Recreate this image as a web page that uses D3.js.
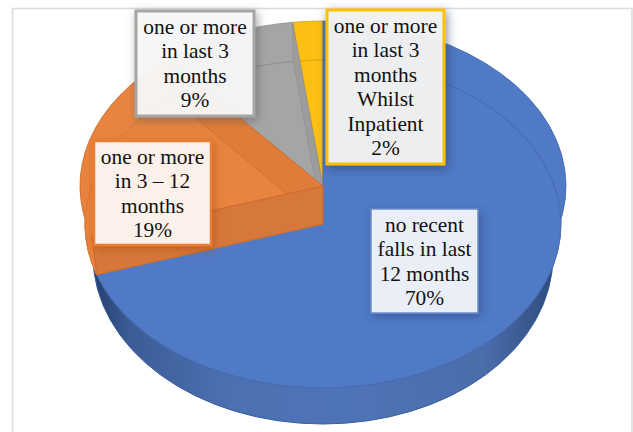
<!DOCTYPE html>
<html>
<head>
<meta charset="utf-8">
<script src="https://cdn.jsdelivr.net/npm/d3@7"></script>
<style>
html,body{margin:0;padding:0;background:#fff;overflow:hidden}
svg{display:block}
text{font-family:"Liberation Serif",serif;font-size:21.4px;fill:#111}
</style>
</head>
<body>
<svg id="chart" width="633" height="432"></svg>
<script>
// ---- data ----
const categories = ["no recent falls in last 12 months","one or more in 3 – 12 months","one or more in last 3 months","one or more in last 3 months Whilst Inpatient"];
const values = [70, 19, 9, 2];
const percentLabels = ["70%", "19%", "9%", "2%"];
const labelLines = [
  ["no recent","falls in last","12 months"],
  ["one or more","in 3 – 12","months"],
  ["one or more","in last 3","months"],
  ["one or more","in last 3","months","Whilst","Inpatient"]
];

// ---- layout and style ----
const W = 633, H = 432;
const faceColors = ["#507AC5", "#E8843F", "#A5A5A5", "#FCBF14"];
const edgeColors = ["#3F66AC", "#C9631F", "#8F8F8F", "#C9A227"];
const back  = {cx:323, cy:186, rx:243, ry:165};
const front = {cx:323, cy:224, rx:238, ry:164};
const shell = {cx:323, cy:256, rx:230, ry:168};
const boxes = [
  {x:371, y:209, w:107, h:104, stroke:"#6A8DCB", sw:1.5, fill:"#E9EEF7", shadow:"#27457f", base:232},
  {x:94,  y:141, w:117, h:104, stroke:"#ED7D31", sw:2.5, fill:"#FBF1EA", shadow:"#a8500f", base:164},
  {x:136, y:11,  w:118, h:105, stroke:"#A5A5A5", sw:3,   fill:"rgba(249,249,249,0.94)", shadow:"#555555", base:34},
  {x:327, y:10,  w:117, h:154, stroke:"#FFC000", sw:3,   fill:"rgba(242,242,242,0.96)", shadow:"#24365c", base:33}
];
const lineH = 24.4;

const svg = d3.select("#chart");
const defs = svg.append("defs");

const grad = defs.append("linearGradient").attr("id","shellGrad").attr("x1",0).attr("x2",1).attr("y1",0).attr("y2",0);
[[0,"#263F6C"],[0.08,"#3B5C96"],[0.3,"#4C71B2"],[0.55,"#4E74B8"],[0.85,"#4A6DAB"],[0.96,"#36558A"],[1,"#2E4A7C"]]
  .forEach(s => grad.append("stop").attr("offset",s[0]).attr("stop-color",s[1]));

boxes.forEach((b,i) => {
  defs.append("filter").attr("id","sh"+i).attr("x","-25%").attr("y","-25%").attr("width","150%").attr("height","150%")
    .append("feDropShadow").attr("dx",2).attr("dy",3).attr("stdDeviation",5)
    .attr("flood-color",b.shadow).attr("flood-opacity",0.55);
});

// frame
svg.append("path")
  .attr("d", d3.line()([[12.5,H+4],[12.5,8.5],[632,8.5],[632,H+4]]))
  .attr("fill","none").attr("stroke","#DCDCDC").attr("stroke-width",1.6);

// pie
const slices = d3.pie().sort(null).value(d => d)(values);
const arc = d3.arc().innerRadius(0).outerRadius(1);
const rim = d3.arc().innerRadius(1).outerRadius(1);
const place = l => `translate(${l.cx},${l.cy}) scale(${l.rx},${l.ry})`;
const scalesOf = l => ({
  x: d3.scaleLinear().domain([-1,1]).range([l.cx-l.rx, l.cx+l.rx]),
  y: d3.scaleLinear().domain([-1,1]).range([l.cy-l.ry, l.cy+l.ry])
});
const pt = (l,a,r) => {
  const s = scalesOf(l), p = d3.pointRadial(a,r);
  return [s.x(p[0]), s.y(p[1])];
};

// lower shell of the big slice
svg.append("g").attr("transform",place(shell))
  .append("path").attr("d",arc({startAngle:0,endAngle:2*Math.PI}))
  .attr("fill","url(#shellGrad)").attr("stroke","#3A5C99").attr("stroke-width",1)
  .attr("vector-effect","non-scaling-stroke");

// back face
svg.append("g").attr("transform",place(back)).selectAll("path").data(slices).join("path")
  .attr("d",arc).attr("fill",(d,i)=>faceColors[i]).attr("stroke",(d,i)=>edgeColors[i])
  .attr("stroke-width",0.8).attr("vector-effect","non-scaling-stroke");

// front face of the big slice and of the orange slice
const frontG = svg.append("g").attr("transform",place(front));
frontG.selectAll("path.face").data(slices.slice(0,2)).join("path").attr("class","face")
  .attr("d",arc).attr("fill",(d,i)=>faceColors[i]).attr("stroke",(d,i)=>i===0?"none":"#E8843F")
  .attr("vector-effect","non-scaling-stroke");
// faint rim of the front face
frontG.selectAll("path.rim").data(slices).join("path").attr("class","rim")
  .attr("d",rim).attr("fill","none").attr("stroke",(d,i)=>d3.color(faceColors[i]).darker(i===1?0.2:0.35))
  .attr("stroke-width",0.8).attr("vector-effect","non-scaling-stroke");

// walls between back and front faces
const wall = (a) => [pt(back,a,0), pt(back,a,1), pt(front,a,1), pt(front,a,0)];
const line = d3.line().curve(d3.curveLinearClosed);
const walls = [
  {a:slices[3].startAngle, c:"#9C9C9C", s:"#8F8F8F"},
  {a:slices[2].startAngle, c:"#E07C39", s:"#D06A28"},
  {a:slices[1].startAngle, c:"#D6773C", s:"#C9631F"}
];
svg.append("g").selectAll("path").data(walls).join("path")
  .attr("d",d=>line(wall(d.a))).attr("fill",d=>d.c).attr("stroke",d=>d.s).attr("stroke-width",0.7);

// yellow/blue seam
svg.append("path").attr("d",d3.line()([pt(back,0,1),pt(back,0,0)]))
  .attr("stroke","#4A6FB0").attr("stroke-width",1).attr("fill","none");

// labels
const labels = svg.append("g").selectAll("g").data(boxes).join("g");
labels.append("rect")
  .attr("x",d=>d.x).attr("y",d=>d.y).attr("width",d=>d.w).attr("height",d=>d.h)
  .attr("fill",d=>d.fill).attr("stroke",d=>d.stroke).attr("stroke-width",d=>d.sw)
  .attr("filter",(d,i)=>`url(#sh${i})`);
labels.each(function(b,i){
  const lines = labelLines[i].concat(percentLabels[i]);
  d3.select(this).selectAll("text").data(lines).join("text")
    .attr("x",b.x+b.w/2).attr("y",(d,j)=>b.base+j*lineH)
    .attr("text-anchor","middle").text(d=>d);
});
</script>
</body>
</html>
